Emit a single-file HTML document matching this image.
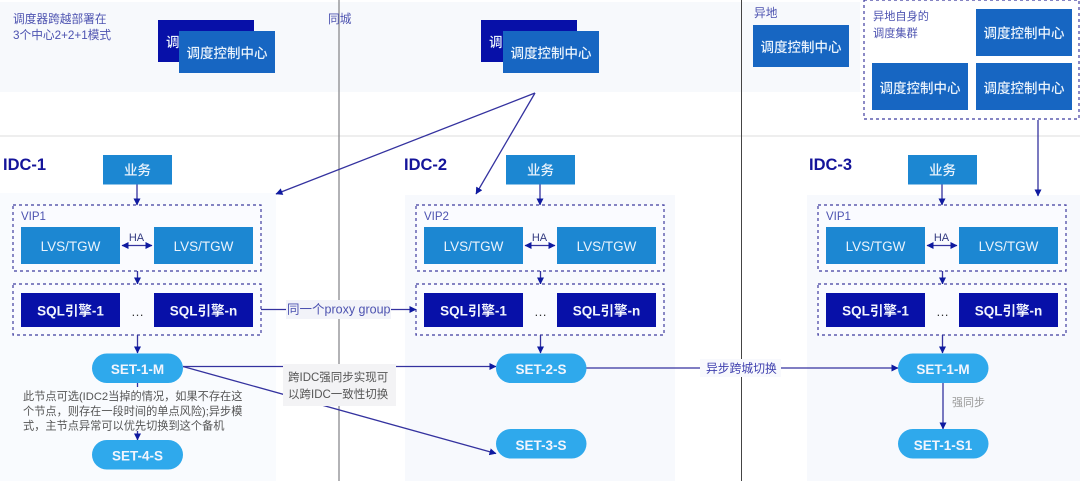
<!DOCTYPE html>
<html><head><meta charset="utf-8">
<style>
html,body{margin:0;padding:0;background:#fff;width:1080px;height:481px;overflow:hidden}
svg{display:block}
text{font-family:"Liberation Sans","Noto Sans CJK SC",sans-serif}
.dash{fill:#fafbff;stroke:#3f3c9f;stroke-width:1.2;stroke-dasharray:3 3}
.con{stroke:#34329f;stroke-width:1.3;fill:none}
.l{fill:#1c87d2}.s{fill:#0710a8}.c{fill:#1766c2}.p{fill:#2fa9ec}
.t{fill:#eaf3fc;font-size:13.5px;text-anchor:middle;font-weight:500}
.b{fill:#f2f5fd;font-size:13.5px;text-anchor:middle;font-weight:700}
.lab{fill:#4c52b0;font-size:11.7px}
.g{fill:#555;font-size:11.2px}
.idc{fill:#14149a;font-size:16.500px;font-weight:700}
</style></head>
<body>
<svg width="1080" height="481" viewBox="0 0 1080 481" xmlns="http://www.w3.org/2000/svg">
<defs>
<marker id="a" markerWidth="7" markerHeight="7" refX="6.500" refY="3.500" orient="auto-start-reverse" markerUnits="userSpaceOnUse"><path d="M0,0L7,3.500L0,7z" fill="#0f1aa0"/></marker>
<g id="col">
  <rect x="103" y="155" width="69" height="29.500" class="l"/>
  <text x="137.500" y="175" class="t">业务</text>
  <rect x="13" y="205" width="248" height="66" class="dash"/>
  <rect x="21" y="227" width="99" height="37" class="l"/>
  <rect x="154" y="227" width="99" height="37" class="l"/>
  <text x="70.500" y="251" class="t">LVS/TGW</text>
  <text x="203.500" y="251" class="t">LVS/TGW</text>
  <text x="136.500" y="241" text-anchor="middle" style="font-size:11px;fill:#333a80">HA</text>
  <line x1="122" y1="245.500" x2="152" y2="245.500" class="con" marker-start="url(#a)" marker-end="url(#a)"/>
  <line x1="137" y1="184.500" x2="137" y2="205" class="con" marker-end="url(#a)"/>
  <line x1="137.500" y1="271" x2="137.500" y2="284" class="con" marker-end="url(#a)"/>
  <rect x="13" y="284" width="248" height="51" class="dash"/>
  <rect x="21" y="293" width="99" height="34" class="s"/>
  <rect x="154" y="293" width="99" height="34" class="s"/>
  <text x="70.500" y="315.500" class="b">SQL引擎-1</text>
  <text x="203.500" y="315.500" class="b">SQL引擎-n</text>
  <text x="137.500" y="316" text-anchor="middle" style="font-size:13px;fill:#333">…</text>
  <line x1="137.500" y1="335" x2="137.500" y2="353" class="con" marker-end="url(#a)"/>
</g>
</defs>

<rect width="1080" height="481" fill="#fff"/>
<rect x="0" y="2" width="860" height="90" fill="#f7f9fc"/>
<rect x="0" y="193" width="276" height="288" fill="#f9fbfe"/>
<rect x="405" y="195" width="270" height="286" fill="#f7f9fd"/>
<rect x="807" y="195" width="273" height="286" fill="#f7f9fd"/>

<line x1="0" y1="136" x2="1080" y2="136" stroke="#dcdcdc" stroke-width="1"/>
<line x1="339" y1="0" x2="339" y2="481" stroke="#8a8a8e" stroke-width="1.300"/>
<line x1="741.500" y1="0" x2="741.500" y2="481" stroke="#444" stroke-width="1"/>

<text x="13" y="23" class="lab">调度器跨越部署在</text>
<text x="13" y="39" class="lab">3个中心2+2+1模式</text>
<text x="328" y="23" class="lab">同城</text>
<text x="754" y="17" class="lab">异地</text>

<rect x="158" y="20" width="96" height="42" class="s"/>
<text x="166" y="47" class="t" style="text-anchor:start">调度</text>
<rect x="179" y="31" width="96" height="42" class="c"/>
<text x="227" y="58" class="t">调度控制中心</text>

<rect x="481" y="20" width="96" height="42" class="s"/>
<text x="489" y="47" class="t" style="text-anchor:start">调度</text>
<rect x="503" y="31" width="96" height="42" class="c"/>
<text x="551" y="58" class="t">调度控制中心</text>

<rect x="753" y="25" width="96" height="42" class="c"/>
<text x="801" y="52" class="t">调度控制中心</text>

<rect x="864" y="0" width="215" height="119" fill="#fff" stroke="#3f3c9f" stroke-width="1.200" stroke-dasharray="3 3"/>
<text x="873" y="20" class="lab" style="font-size:11.200px">异地自身的</text>
<text x="873" y="37" class="lab" style="font-size:11.200px">调度集群</text>
<rect x="976" y="9" width="96" height="47" class="c"/>
<text x="1024" y="38" class="t">调度控制中心</text>
<rect x="872" y="63" width="96" height="47" class="c"/>
<text x="920" y="93" class="t">调度控制中心</text>
<rect x="976" y="63" width="96" height="47" class="c"/>
<text x="1024" y="93" class="t">调度控制中心</text>

<line x1="535" y1="93" x2="276" y2="194" class="con" marker-end="url(#a)"/>
<line x1="535" y1="93" x2="476" y2="194" class="con" marker-end="url(#a)"/>
<line x1="1038" y1="120" x2="1038" y2="196" class="con" marker-end="url(#a)"/>

<text x="3" y="170" class="idc">IDC-1</text>
<text x="404" y="170" class="idc">IDC-2</text>
<text x="809" y="170" class="idc">IDC-3</text>

<use href="#col"/>
<use href="#col" x="403"/>
<use href="#col" x="805"/>
<text x="424" y="220" class="lab" style="font-size:11.500px">VIP2</text>
<text x="21" y="220" class="lab" style="font-size:11.500px">VIP1</text>
<text x="826" y="220" class="lab" style="font-size:11.500px">VIP1</text>

<!-- connectors -->
<line x1="261" y1="309.500" x2="416" y2="309.500" class="con" marker-end="url(#a)"/>
<rect x="286" y="300" width="105" height="19" fill="#f2f3f9"/>
<text x="287" y="313.500" class="lab" style="font-size:12.500px">同一个proxy group</text>

<line x1="183" y1="366.500" x2="496" y2="366.500" class="con" marker-end="url(#a)"/>
<line x1="183" y1="366.500" x2="496" y2="453.500" class="con" marker-end="url(#a)"/>
<rect x="283" y="364" width="113" height="42" fill="#f3f3f5"/>
<text x="288" y="381" class="g" style="font-size:11.500px">跨IDC强同步实现可</text>
<text x="288" y="398" class="g" style="font-size:11.500px">以跨IDC一致性切换</text>

<line x1="586" y1="368" x2="898" y2="368" class="con" marker-end="url(#a)"/>
<rect x="700" y="359" width="81" height="18" fill="#f8f9fd"/>
<text x="706" y="372.500" class="lab" style="font-size:11.800px;fill:#3e3fae">异步跨城切换</text>

<line x1="137.500" y1="383" x2="137.500" y2="387" class="con"/>
<line x1="137.500" y1="431" x2="137.500" y2="440" class="con" marker-end="url(#a)"/>
<line x1="943" y1="383" x2="943" y2="429" class="con" marker-end="url(#a)"/>
<text x="952" y="406" style="font-size:11px;fill:#999">强同步</text>

<text x="23" y="400" class="g">此节点可选(IDC2当掉的情况，如果不存在这</text>
<text x="23" y="415" class="g">个节点，则存在一段时间的单点风险);异步模</text>
<text x="23" y="429.500" class="g">式，主节点异常可以优先切换到这个备机</text>

<!-- pills -->
<rect x="92" y="353.500" width="91" height="29.500" rx="14.750" class="p"/>
<text x="137.500" y="374" class="b">SET-1-M</text>
<rect x="92" y="440" width="91" height="29.500" rx="14.750" class="p"/>
<text x="137.500" y="460.500" class="b">SET-4-S</text>
<rect x="496" y="353.500" width="90.500" height="29.500" rx="14.750" class="p"/>
<text x="541" y="374" class="b">SET-2-S</text>
<rect x="496" y="429" width="90.500" height="29.500" rx="14.750" class="p"/>
<text x="541" y="450" class="b">SET-3-S</text>
<rect x="898" y="353.500" width="90.500" height="29.500" rx="14.750" class="p"/>
<text x="943" y="374" class="b">SET-1-M</text>
<rect x="898" y="429" width="90.500" height="29.500" rx="14.750" class="p"/>
<text x="943" y="450" class="b">SET-1-S1</text>
</svg>
</body></html>
